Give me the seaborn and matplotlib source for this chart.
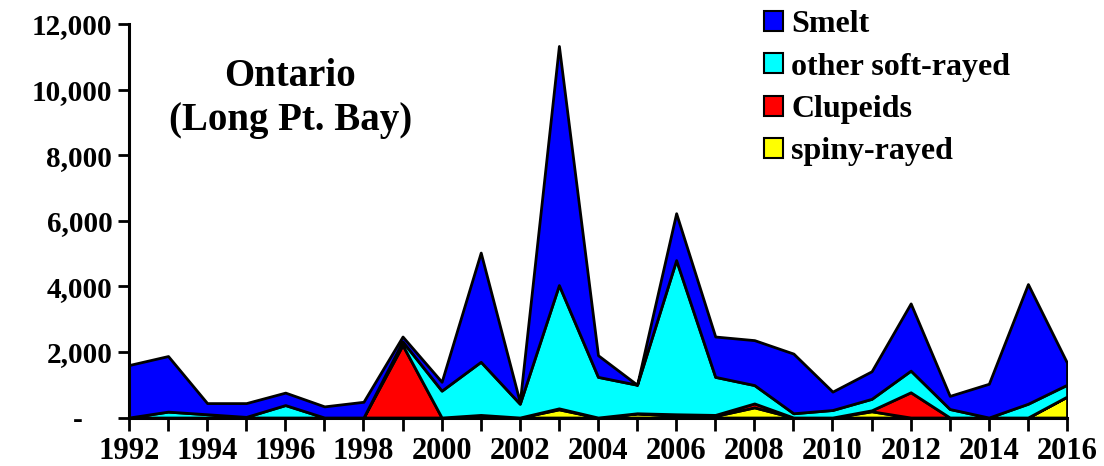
import pandas as pd
import matplotlib
matplotlib.use('Agg')
import matplotlib.pyplot as plt
import matplotlib.ticker as mticker
from matplotlib.patches import Patch
import seaborn as sns

sns.set_style('white')
plt.rcParams['font.family'] = ['Liberation Serif', 'DejaVu Serif']
plt.rcParams['font.weight'] = 'bold'
plt.rcParams['text.color'] = 'black'

years = list(range(1992, 2017))
spiny_rayed = [0, 0, 0, 0, 0, 0, 0, 0, 0, 0, 0, 250, 0, 125, 60, 50, 310, 0, 0, 190, 0, 0, 0, 0, 640]
clupeids = [0, 0, 0, 0, 0, 0, 0, 2210, 0, 80, 0, 30, 0, 5, 40, 30, 120, 0, 0, 30, 770, 0, 0, 0, 0]
other_soft = [0, 180, 100, 20, 380, 0, 0, 110, 820, 1620, 420, 3760, 1240, 870, 4700, 1160, 560,
              130, 230, 350, 660, 260, 0, 420, 360]
smelt = [1600, 1695, 340, 420, 380, 340, 480, 150, 270, 3330, 50, 7290, 660, 0, 1430, 1230, 1370,
         1820, 560, 840, 2050, 400, 1030, 3650, 670]

series_names = ['spiny-rayed', 'Clupeids', 'other soft-rayed', 'Smelt']
series_colors = ['#ffff00', '#ff0000', '#00ffff', '#0000ff']

df = pd.DataFrame({'Year': years, 'spiny-rayed': spiny_rayed, 'Clupeids': clupeids,
                   'other soft-rayed': other_soft, 'Smelt': smelt})

fig = plt.figure(figsize=(11.04, 4.66), dpi=100)
ax = fig.add_axes([0.1168, 0.104, 0.8497, 0.8445])

# stacked areas, bottom to top
ax.stackplot(df['Year'], *[df[n] for n in series_names], colors=series_colors,
             edgecolor='black', linewidth=2)

ax.set_xlim(1992, 2016)
ax.set_ylim(0, 12000)
ax.set_xticks(range(1992, 2017, 2))
ax.set_xticks(range(1992, 2017), minor=True)
ax.set_yticks(range(0, 12001, 2000))
ax.yaxis.set_major_formatter(mticker.FuncFormatter(lambda v, p: '-    ' if v == 0 else f'{int(v):,}'))

for side in ['top', 'right']:
    ax.spines[side].set_visible(False)
for side in ['left', 'bottom']:
    ax.spines[side].set_linewidth(2.2)
    ax.spines[side].set_color('black')

ax.tick_params(axis='x', which='both', direction='out', length=9, width=2, colors='black',
               labelsize=22, pad=5, bottom=True)
ax.tick_params(axis='y', direction='out', length=8, width=2, colors='black', labelsize=21, pad=4, left=True)
for lbl in ax.get_xticklabels() + ax.get_yticklabels():
    lbl.set_fontweight('bold')

ax.text(0.172, 0.81, 'Ontario\n(Long Pt. Bay)', transform=ax.transAxes, ha='center', va='center',
        fontsize=28, fontweight='bold', linespacing=1.25, color='black')

handles = [Patch(facecolor=c, edgecolor='black', linewidth=1.5, label=n)
           for n, c in zip(series_names[::-1], series_colors[::-1])]
leg = fig.legend(handles=handles, loc='upper left', bbox_to_anchor=(0.666, 1.04), frameon=False,
                 handlelength=0.6, handleheight=0.6, handletextpad=0.25, labelspacing=0.42,
                 prop={'weight': 'bold', 'size': 23})
for t in leg.get_texts():
    t.set_color('black')

fig.savefig('out.png', dpi=100)
